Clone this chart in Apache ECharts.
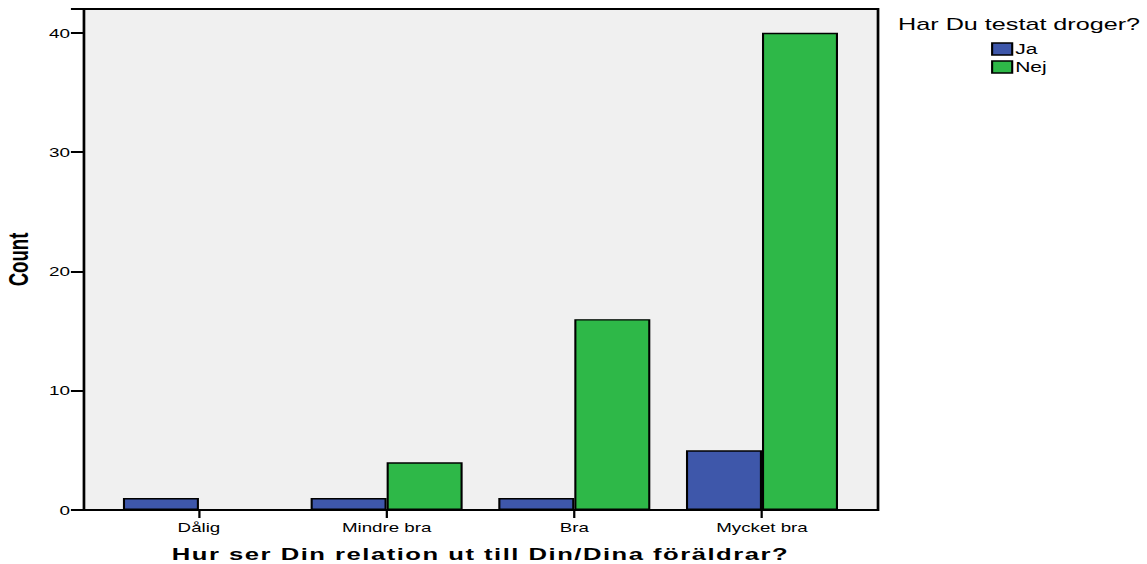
<!DOCTYPE html>
<html><head><meta charset="utf-8">
<script src="https://cdn.jsdelivr.net/npm/echarts@6/dist/echarts.min.js"></script>
<style>
html,body{margin:0;padding:0;background:#fff;overflow:hidden;width:1147px;height:564px}
#c{width:765px;height:564px;transform:scaleX(1.49935);transform-origin:0 0}
#c text[style*="17.1px"]{letter-spacing:1px}
</style>
</head><body><div id="c"></div>
<script>
const categories = ['Dålig', 'Mindre bra', 'Bra', 'Mycket bra'];
const seriesNames = ['Ja', 'Nej'];
const jaValues = [1, 1, 1, 5];
const nejValues = [0, 4, 16, 40];
const yTicks = [0, 10, 20, 30, 40];
const legendTitle = 'Har Du testat droger?';
const xTitle = 'Hur ser Din relation ut till Din/Dina föräldrar?';
const yTitle = 'Count';

const chart = echarts.init(document.getElementById('c'), null, {renderer: 'svg'});
const font = 'Liberation Sans, Arial, Helvetica, sans-serif';
chart.setOption({
  animation: false,
  title: {text: legendTitle, left: 599, top: 16, padding: 0,
    textStyle: {fontFamily: font, fontSize: 16.8, fontWeight: 'normal', color: '#000'}},
  legend: {
    data: seriesNames, orient: 'vertical', left: 661, top: 42, padding: 0,
    itemWidth: 13.4, itemHeight: 12, itemGap: 4, icon: 'rect',
    textStyle: {fontFamily: font, fontSize: 14, color: '#000', padding: [0, 0, 0, -3]},
    itemStyle: {borderColor: '#000', borderWidth: 1.4}
  },
  grid: [
    {left: 56, right: 179.4, top: 9, bottom: 54, show: true, backgroundColor: '#f0f0f0',
     borderColor: '#000', borderWidth: 1.8, outerBoundsMode: 'none'},
    {left: 70.1, right: 194.2, top: 9, bottom: 54, outerBoundsMode: 'none'}
  ],
  xAxis: [
    {type: 'category', gridIndex: 0, data: categories, show: false},
    {type: 'category', gridIndex: 1, data: categories,
     axisLine: {show: false},
     axisTick: {show: true, alignWithLabel: true, length: 8, lineStyle: {color: '#000', width: 1.5}},
     axisLabel: {fontFamily: font, fontSize: 12.5, color: '#000', margin: 11},
     name: xTitle, nameLocation: 'middle', nameGap: 36,
     nameTextStyle: {fontFamily: font, fontSize: 17.1, fontWeight: 'bold', color: '#000'}}
  ],
  yAxis: [
    {type: 'value', gridIndex: 0, min: 0, max: 42, interval: 10,
     axisLine: {show: false},
     axisTick: {show: true, length: 8.7, lineStyle: {color: '#000', width: 2}},
     axisLabel: {fontFamily: font, fontSize: 12.6, color: '#000', margin: 9.3,
       formatter: v => yTicks.includes(v) ? String(v) : ''},
     splitLine: {show: false},
     name: yTitle, nameLocation: 'middle', nameGap: 32, nameRotate: 90,
     nameTextStyle: {fontFamily: font, fontSize: 18.6, fontWeight: 'bold', color: '#000'}},
    {type: 'value', gridIndex: 1, min: 0, max: 42, interval: 10, show: false}
  ],
  series: [
    {name: seriesNames[0], type: 'bar', xAxisIndex: 1, yAxisIndex: 1, data: jaValues,
     barGap: '0%', barCategoryGap: '19%',
     itemStyle: {color: '#3e57aa', borderColor: '#000', borderWidth: 1.4}},
    {name: seriesNames[1], type: 'bar', xAxisIndex: 1, yAxisIndex: 1, data: nejValues,
     barGap: '0%', barCategoryGap: '19%',
     itemStyle: {color: '#2eb848', borderColor: '#000', borderWidth: 1.4}}
  ]
});
</script></body></html>
